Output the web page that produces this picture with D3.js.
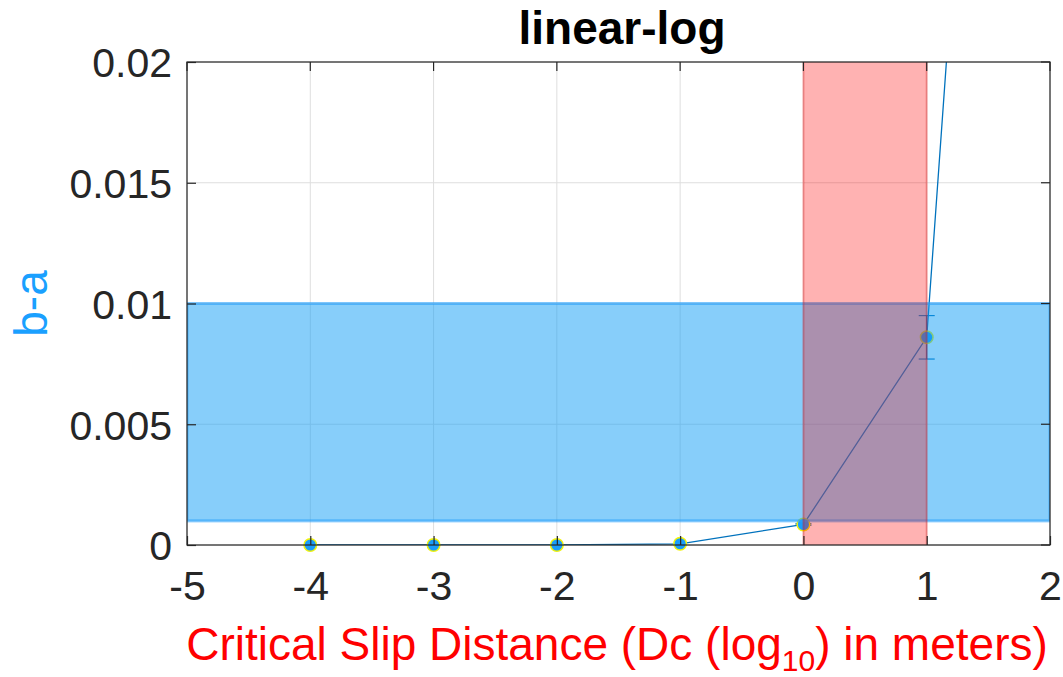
<!DOCTYPE html>
<html>
<head>
<meta charset="utf-8">
<script src="https://cdn.jsdelivr.net/npm/d3@7/dist/d3.min.js"></script>
<style>
  html, body { margin: 0; padding: 0; background: #fff; }
  svg { display: block; }
  text { font-family: "Liberation Sans", Arial, Helvetica, sans-serif; }
</style>
</head>
<body>
<svg id="chart" width="1063" height="677"></svg>
<script>
// Dc (log10 of metres) sample positions and the measured b-a at each
const dcLog = [-4, -3, -2, -1, 0, 1, 2];
const bMinusA = [0, 0, 0, 0.00005, 0.00085, 0.0086, 0.080];
const bMinusAErr = [0, 0, 0, 0, 0.00003, 0.0009, 0];

// Shaded ranges: admissible b-a band and admissible Dc band
const baBand = [0.001, 0.01];
const dcBand = [0, 1];

// Axis ticks
const xTicks = [-5, -4, -3, -2, -1, 0, 1, 2];
const xTickLabels = ["-5", "-4", "-3", "-2", "-1", "0", "1", "2"];
const yTicks = [0, 0.005, 0.01, 0.015, 0.02];
const yTickLabels = ["0", "0.005", "0.01", "0.015", "0.02"];

const W = 1063, H = 677;
const m = { left: 187, right: 13, top: 62, bottom: 132 };
const pw = W - m.left - m.right, ph = H - m.top - m.bottom;

const svg = d3.select("#chart");
const x = d3.scaleLinear().domain([-5, 2]).range([0, pw]);
const y = d3.scaleLinear().domain([0, 0.02]).range([ph, 0]);

const axisColor = "#262626";
const g = svg.append("g").attr("transform", `translate(${m.left},${m.top})`);

svg.append("defs").append("clipPath").attr("id", "plotClip")
  .append("rect").attr("x", 0).attr("y", 0).attr("width", pw).attr("height", ph);

// grid
const grid = g.append("g").attr("stroke", "#dedede").attr("stroke-width", 1);
xTicks.forEach(t => grid.append("line")
  .attr("x1", x(t)).attr("x2", x(t)).attr("y1", 0).attr("y2", ph));
yTicks.forEach(t => grid.append("line")
  .attr("x1", 0).attr("x2", pw).attr("y1", y(t)).attr("y2", y(t)));

const plot = g.append("g").attr("clip-path", "url(#plotClip)");
const pts = dcLog.map((d, i) => [d, bMinusA[i]]);

// data line
const lineColor = "#0072BD";
plot.append("path")
  .datum(pts)
  .attr("fill", "none")
  .attr("stroke", lineColor)
  .attr("stroke-width", 1.3)
  .attr("d", d3.line().x(d => x(d[0])).y(d => y(d[1])));

// error bars
const cap = 8;
dcLog.forEach((d, i) => {
  const e = bMinusAErr[i];
  if (!e) return;
  const cx = x(d), y0 = y(bMinusA[i] - e), y1 = y(bMinusA[i] + e);
  const eb = plot.append("g").attr("stroke", lineColor).attr("stroke-width", 1.2);
  eb.append("line").attr("x1", cx).attr("x2", cx).attr("y1", y0).attr("y2", y1);
  eb.append("line").attr("x1", cx - cap).attr("x2", cx + cap).attr("y1", y0).attr("y2", y0);
  eb.append("line").attr("x1", cx - cap).attr("x2", cx + cap).attr("y1", y1).attr("y2", y1);
});

// markers (only those inside the y range; markers themselves are not clipped)
g.append("g").selectAll("circle.pt")
  .data(pts.filter(d => d[1] <= y.domain()[1]))
  .join("circle")
  .attr("class", "pt")
  .attr("cx", d => x(d[0]))
  .attr("cy", d => y(d[1]))
  .attr("r", 6.3)
  .attr("fill", "#1a9dfb")
  .attr("stroke", "#f2f20a")
  .attr("stroke-width", 1.5);

const bands = g.append("g").attr("clip-path", "url(#plotClip)");

// b-a band (semi-transparent, over the data)
bands.append("rect")
  .attr("x", x(-5)).attr("width", x(2) - x(-5))
  .attr("y", y(baBand[1])).attr("height", y(baBand[0]) - y(baBand[1]))
  .attr("fill", "rgb(15,157,245)").attr("fill-opacity", 0.5)
  .attr("stroke", "rgb(40,160,250)").attr("stroke-opacity", 0.6).attr("stroke-width", 3);

// Dc band
bands.append("rect")
  .attr("x", x(dcBand[0])).attr("width", x(dcBand[1]) - x(dcBand[0]))
  .attr("y", -5).attr("height", ph + 10)
  .attr("fill", "rgb(255,0,0)").attr("fill-opacity", 0.3)
  .attr("stroke", "rgb(230,0,0)").attr("stroke-opacity", 0.3).attr("stroke-width", 2);

// axes box
g.append("rect").attr("x", 0).attr("y", 0).attr("width", pw).attr("height", ph)
  .attr("fill", "none").attr("stroke", axisColor).attr("stroke-width", 1.2);

// inward ticks and labels
const tickLen = 9;
const xAxis = d3.axisBottom(x).tickValues(xTicks).tickSize(-tickLen).tickSizeOuter(0)
  .tickFormat((d, i) => xTickLabels[i]);
const gx = g.append("g").attr("transform", `translate(0,${ph})`).call(xAxis);
const yAxis = d3.axisLeft(y).tickValues(yTicks).tickSize(-tickLen).tickSizeOuter(0).tickPadding(15)
  .tickFormat((d, i) => yTickLabels[i]);
const gy = g.append("g").call(yAxis);
[gx, gy].forEach(a => {
  a.select(".domain").remove();
  a.selectAll(".tick line").attr("stroke", axisColor).attr("stroke-width", 1.2);
  a.selectAll(".tick text").attr("fill", axisColor).style("font-size", "41px")
    .style("font-family", "'Liberation Sans', Arial, sans-serif");
});
gx.selectAll(".tick text").attr("y", 55).attr("dy", 0);
gy.selectAll(".tick text").attr("dy", "0.36em");
// top/right ticks
xTicks.forEach(t => g.append("line").attr("x1", x(t)).attr("x2", x(t)).attr("y1", 0).attr("y2", tickLen)
  .attr("stroke", axisColor).attr("stroke-width", 1.2));
yTicks.forEach(t => g.append("line").attr("x1", pw).attr("x2", pw - tickLen).attr("y1", y(t)).attr("y2", y(t))
  .attr("stroke", axisColor).attr("stroke-width", 1.2));

// title
svg.append("text").attr("x", 622).attr("y", 44)
  .attr("text-anchor", "middle").attr("font-weight", "bold").attr("font-size", 46)
  .attr("fill", "#000").text("linear-log");

// y label
svg.append("text")
  .attr("transform", `translate(47,${m.top + ph / 2}) rotate(-90)`)
  .attr("text-anchor", "middle").attr("font-size", 46).attr("fill", "#1aa0ff")
  .text("b-a");

// x label with subscript
const xl = svg.append("text").attr("x", 617).attr("y", 660)
  .attr("text-anchor", "middle").attr("font-size", 46).attr("fill", "#ff0000");
xl.append("tspan").text("Critical Slip Distance (Dc (log");
xl.append("tspan").attr("font-size", 30).attr("dy", 11).text("10");
xl.append("tspan").attr("dy", -11).text(") in meters)");
</script>
</body>
</html>
